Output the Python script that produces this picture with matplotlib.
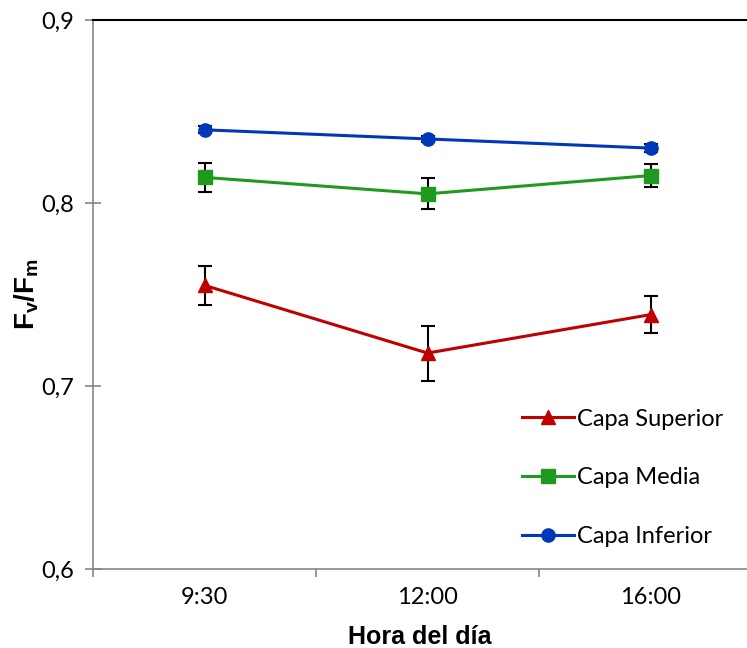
import matplotlib.pyplot as plt
import numpy as np

# horas de muestreo
horas = ['9:30', '12:00', '16:00']

# Fv/Fm medio y error estandar por capa del dosel
superior = [0.755, 0.718, 0.739]
superior_err = [0.0105, 0.015, 0.010]
media = [0.814, 0.805, 0.815]
media_err = [0.008, 0.0085, 0.0065]
inferior = [0.840, 0.835, 0.830]
inferior_err = [0.002, 0.0015, 0.002]

plt.rcParams['mathtext.fontset'] = 'custom'
plt.rcParams['mathtext.bf'] = 'Liberation Sans:bold'
plt.rcParams['mathtext.rm'] = 'Liberation Sans:bold'

fig = plt.figure(figsize=(7.47, 6.48), dpi=100)
ax = fig.add_axes([93/747, 1-569/648, 1-93/747, (569-20)/648])

x = np.arange(len(horas))
capas = [
    (superior, superior_err, '#C00000', '^', 10, 'Capa Superior'),
    (media, media_err, '#1F9A1F', 's', 9.5, 'Capa Media'),
    (inferior, inferior_err, '#0038B8', 'o', 9.5, 'Capa Inferior'),
]
for y, err, color, marker, ms, label in capas:
    ax.errorbar(x, y, yerr=err, fmt='none', ecolor='black', elinewidth=1.5,
                capsize=5, capthick=1.5, zorder=2)
    ax.plot(x, y, color=color, marker=marker, markersize=ms, linewidth=2.2,
            label=label, zorder=3)

ax.set_ylim(0.6, 0.9)
ax.set_yticks([0.6, 0.7, 0.8, 0.9])
ax.set_yticklabels(['0,6', '0,7', '0,8', '0,9'], fontfamily='Lato', fontsize=17)
ax.set_xlim(-0.5, (747-93)/223 - 0.5)
ax.set_xticks([-0.5, 0.5, 1.5])
ax.set_xticklabels([])
ax.set_xticks(x, minor=True)
ax.set_xticklabels(horas, minor=True, fontfamily='Lato', fontsize=17)
ax.tick_params(axis='x', which='minor', length=0, pad=13)
ax.tick_params(axis='x', which='major', direction='out', length=6,
               color='#868686', width=1.2)
ax.tick_params(axis='y', direction='inout', length=11, color='#868686',
               width=1.2, pad=8)

for side in ['left', 'bottom']:
    ax.spines[side].set_color('#868686')
    ax.spines[side].set_linewidth(1.2)
ax.spines['top'].set_color('black')
ax.spines['top'].set_linewidth(1.5)
ax.spines['right'].set_visible(False)

ax.set_xlabel('Hora del día', fontfamily='Liberation Sans', fontweight='bold',
              fontsize=18, labelpad=12)
ax.set_ylabel(r'$\mathbf{F_v/F_m}$', fontsize=20, labelpad=0)

ax.legend(loc='center left', bbox_to_anchor=(510/747, 1-478/648),
          bbox_transform=fig.transFigure, frameon=False, borderpad=0,
          handlelength=2.2, handletextpad=0.15, labelspacing=1.6,
          prop={'family': 'Lato', 'size': 17})

fig.savefig('out.png', dpi=100)
